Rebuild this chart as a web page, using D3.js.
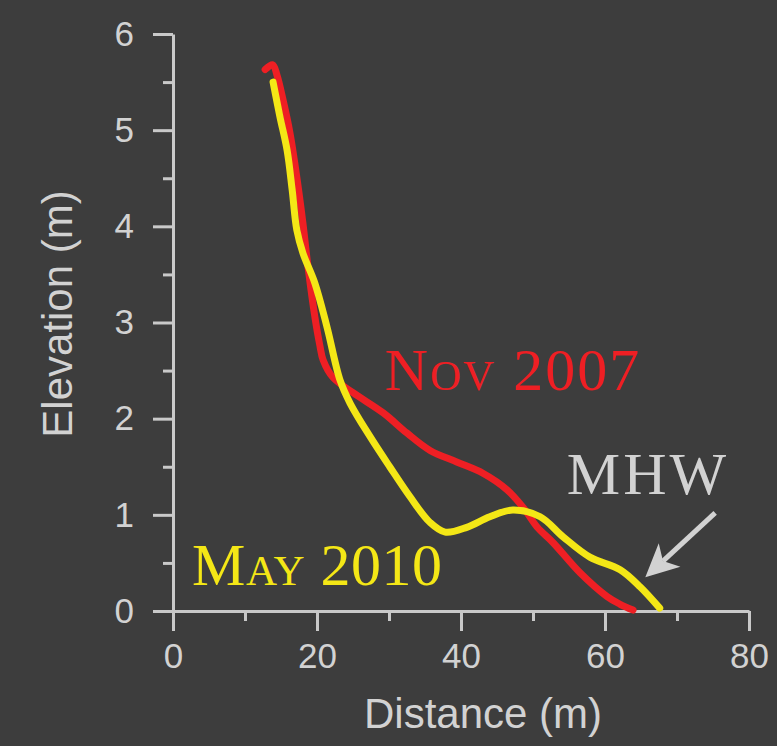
<!DOCTYPE html>
<html>
<head>
<meta charset="utf-8">
<script src="https://cdn.jsdelivr.net/npm/d3@7"></script>
<style>
  html, body { margin: 0; padding: 0; background: #3d3d3d; }
  svg { display: block; }
  text { font-family: "Liberation Sans", Arial, Helvetica, sans-serif; }
</style>
</head>
<body>
<svg id="chart" width="777" height="746"></svg>
<script>
// Beach profile surveys: distance along transect (m) vs elevation (m)
const novDistance  = [12.8, 13.85, 14.45, 15.3, 16.25, 17.2, 18.05, 18.75, 19.7, 20.4, 20.85, 22.2, 25.0, 29.2, 32.5, 35.7, 39.4, 43.1, 46.4, 48.6, 50.6, 52.8, 56.5, 60.3, 62.1, 63.9];
const novElevation = [5.63, 5.68, 5.57, 5.31, 4.97, 4.51, 4.03, 3.58, 3.06, 2.76, 2.61, 2.43, 2.27, 2.06, 1.85, 1.67, 1.55, 1.43, 1.26, 1.08, 0.87, 0.71, 0.40, 0.15, 0.07, 0.01];

const mayDistance  = [13.9, 14.85, 15.85, 16.55, 17.2, 18.05, 19.7, 21.4, 23.2, 24.6, 27.4, 30.1, 32.9, 35.7, 37.8, 40.8, 44.0, 47.2, 51.0, 54.2, 57.9, 62.1, 64.9, 67.6];
const mayElevation = [5.50, 5.14, 4.79, 4.38, 3.96, 3.72, 3.41, 2.95, 2.40, 2.16, 1.81, 1.50, 1.19, 0.92, 0.82, 0.87, 0.98, 1.05, 0.98, 0.77, 0.56, 0.43, 0.25, 0.03];

const xTicks = [0, 20, 40, 60, 80];
const xMinorTicks = [10, 30, 50, 70];
const yTicks = [0, 1, 2, 3, 4, 5, 6];
const yMinorTicks = [0.5, 1.5, 2.5, 3.5, 4.5, 5.5];

const seriesLabels = ["Nov 2007", "May 2010"];
const mhwLabel = "MHW";
// Annotation arrow (distance, elevation): tail then tip
const mhwArrow = [[75.3, 1.02], [65.6, 0.35]];

const svg = d3.select("#chart");
const W = 777, H = 746;
const margin = { left: 173, right: 28, top: 34, bottom: 135 };

const x = d3.scaleLinear().domain([0, 80]).range([margin.left, W - margin.right]);
const y = d3.scaleLinear().domain([0, 6]).range([H - margin.bottom, margin.top]);

const axisColor = "#c9c9c9";
const textColor = "#d2d2d2";
const red = "#ee1f24";
const yellow = "#f4e716";

svg.append("rect").attr("width", W).attr("height", H).attr("fill", "#3d3d3d");

// Minor ticks (unlabelled)
svg.append("g")
  .attr("transform", `translate(0,${y(0)})`)
  .call(d3.axisBottom(x).tickValues(xMinorTicks).tickSize(10).tickFormat(""))
  .call(g => g.select(".domain").remove());
svg.append("g")
  .attr("transform", `translate(${x(0)},0)`)
  .call(d3.axisLeft(y).tickValues(yMinorTicks).tickSize(10).tickFormat(""))
  .call(g => g.select(".domain").remove());

// Major axes
const xAxis = svg.append("g")
  .attr("transform", `translate(0,${y(0)})`)
  .call(d3.axisBottom(x).tickValues(xTicks).tickSize(20).tickSizeOuter(0).tickPadding(12).tickFormat(d3.format("d")));
const yAxis = svg.append("g")
  .attr("transform", `translate(${x(0)},0)`)
  .call(d3.axisLeft(y).tickValues(yTicks).tickSize(20).tickSizeOuter(0).tickPadding(19).tickFormat(d3.format("d")));

svg.selectAll(".tick line, .domain")
  .attr("stroke", axisColor)
  .attr("stroke-width", 3);
[xAxis, yAxis].forEach(g => g.selectAll("text")
  .attr("fill", textColor)
  .style("font-size", "35px")
  .style("font-family", "'Liberation Sans', Arial, sans-serif"));

// Axis titles
svg.append("text")
  .attr("x", 483)
  .attr("y", 728)
  .attr("text-anchor", "middle")
  .attr("fill", textColor)
  .style("font-size", "42px")
  .text("Distance (m)");

svg.append("text")
  .attr("transform", "translate(72,314) rotate(-90)")
  .attr("text-anchor", "middle")
  .attr("fill", textColor)
  .style("font-size", "42px")
  .text("Elevation (m)");

// Profiles
const line = d3.line()
  .x(d => x(d[0]))
  .y(d => y(d[1]))
  .curve(d3.curveCatmullRom.alpha(0.5));

const novData = novDistance.map((d, i) => [d, novElevation[i]]);
const mayData = mayDistance.map((d, i) => [d, mayElevation[i]]);

svg.append("path")
  .datum(novData)
  .attr("d", line)
  .attr("fill", "none")
  .attr("stroke", red)
  .attr("stroke-width", 7)
  .attr("stroke-linecap", "round")
  .attr("stroke-linejoin", "round");

svg.append("path")
  .datum(mayData)
  .attr("d", line)
  .attr("fill", "none")
  .attr("stroke", yellow)
  .attr("stroke-width", 7)
  .attr("stroke-linecap", "round")
  .attr("stroke-linejoin", "round");

// Series labels in small caps: first letter full size, the rest as reduced capitals
const labelFont = "'Liberation Serif', 'DejaVu Serif', serif";
function smallCapsLabel(str, px, py, color, spacing) {
  const t = svg.append("text")
    .attr("x", px).attr("y", py)
    .attr("fill", color)
    .style("font-family", labelFont)
    .style("font-size", "60px")
    .style("letter-spacing", spacing + "px");
  const parts = str.match(/([A-Z0-9 ]+|[a-z]+)/g);
  parts.forEach(p => {
    const lower = /^[a-z]+$/.test(p);
    t.append("tspan")
      .style("font-size", lower ? "43px" : "60px")
      .text(lower ? p.toUpperCase() : p);
  });
  return t;
}

smallCapsLabel(seriesLabels[0], x(29.4), y(2.30), red, 2);
smallCapsLabel(seriesLabels[1], x(2.65), y(0.27), yellow, 0.5);

svg.append("text")
  .attr("x", x(54.7)).attr("y", y(1.22))
  .attr("fill", textColor)
  .style("font-family", labelFont)
  .style("font-size", "60px")
  .style("letter-spacing", "3px")
  .text(mhwLabel);

// MHW arrow
const [tail, tip] = mhwArrow.map(p => [x(p[0]), y(p[1])]);
const dx = tip[0] - tail[0], dy = tip[1] - tail[1];
const len = Math.hypot(dx, dy);
const ux = dx / len, uy = dy / len;
const nx = -uy, ny = ux;
const headLen = 33, headHalf = 16, notch = 9;

svg.append("line")
  .attr("x1", tail[0]).attr("y1", tail[1])
  .attr("x2", tip[0] - ux * (headLen - notch)).attr("y2", tip[1] - uy * (headLen - notch))
  .attr("stroke", textColor)
  .attr("stroke-width", 5);

svg.append("path")
  .attr("d", d3.line()([
    tip,
    [tip[0] - ux * headLen + nx * headHalf, tip[1] - uy * headLen + ny * headHalf],
    [tip[0] - ux * (headLen - notch), tip[1] - uy * (headLen - notch)],
    [tip[0] - ux * headLen - nx * headHalf, tip[1] - uy * headLen - ny * headHalf]
  ]) + "Z")
  .attr("fill", textColor);
</script>
</body>
</html>
